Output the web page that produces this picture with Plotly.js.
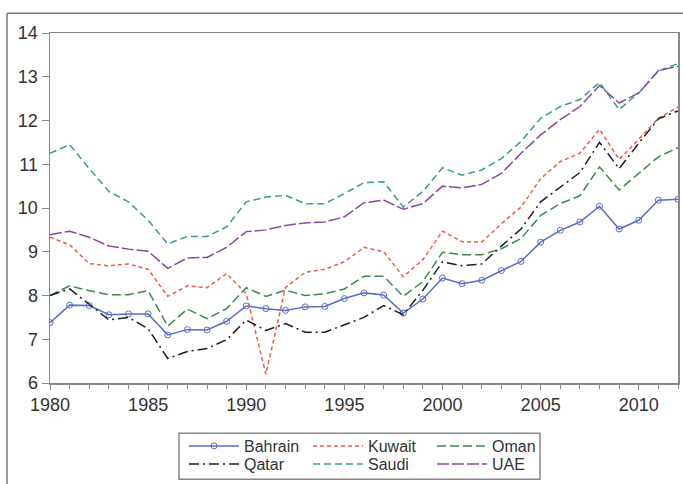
<!DOCTYPE html>
<html>
<head>
<meta charset="utf-8">
<script src="https://cdn.plot.ly/plotly-3.0.1.min.js"></script>
<style>html,body{margin:0;padding:0;background:#fff;}#chart{width:683px;height:484px;}</style>
</head>
<body>
<div id="chart"></div>
<script>
const years = [1980,1981,1982,1983,1984,1985,1986,1987,1988,1989,1990,1991,1992,1993,1994,1995,1996,1997,1998,1999,2000,2001,2002,2003,2004,2005,2006,2007,2008,2009,2010,2011,2012];
const bahrain = [7.38,7.78,7.77,7.56,7.58,7.58,7.1,7.22,7.21,7.41,7.76,7.7,7.66,7.74,7.75,7.93,8.06,8.01,7.6,7.92,8.4,8.27,8.35,8.57,8.78,9.22,9.49,9.68,10.04,9.52,9.72,10.18,10.2];
const kuwait = [9.33,9.16,8.73,8.68,8.72,8.6,7.98,8.22,8.18,8.5,8.04,6.2,8.18,8.53,8.6,8.77,9.1,9.0,8.43,8.82,9.47,9.23,9.22,9.64,10.02,10.67,11.06,11.25,11.8,11.11,11.57,12.05,12.31];
const oman = [8.0,8.22,8.11,8.02,8.02,8.11,7.3,7.69,7.47,7.7,8.18,7.98,8.12,8.0,8.04,8.15,8.44,8.44,7.98,8.32,8.99,8.93,8.93,9.07,9.3,9.83,10.1,10.28,10.94,10.41,10.79,11.17,11.38];
const qatar = [8.0,8.15,7.8,7.44,7.5,7.24,6.56,6.72,6.79,6.99,7.44,7.2,7.36,7.16,7.16,7.33,7.5,7.77,7.56,8.12,8.77,8.68,8.72,9.13,9.52,10.14,10.48,10.81,11.5,10.9,11.48,12.04,12.22];
const saudi = [11.25,11.45,10.9,10.38,10.14,9.72,9.18,9.35,9.35,9.57,10.14,10.25,10.29,10.1,10.1,10.33,10.58,10.6,10.02,10.38,10.92,10.75,10.87,11.13,11.52,12.05,12.32,12.48,12.87,12.25,12.63,13.13,13.3];
const uae = [9.39,9.47,9.33,9.13,9.06,9.01,8.62,8.86,8.87,9.1,9.46,9.5,9.6,9.66,9.68,9.8,10.12,10.18,9.97,10.1,10.5,10.46,10.54,10.79,11.25,11.67,12.02,12.32,12.8,12.4,12.63,13.14,13.24];

const traces = [
  {name:'Bahrain', y:bahrain, legend:'legend', line:{color:'#5a6cc8', width:1.5, dash:'solid'}, mode:'lines+markers', marker:{symbol:'circle-open', size:6, color:'#5a6cc8', line:{width:1}}},
  {name:'Kuwait', y:kuwait, legend:'legend', line:{color:'#f05a46', width:1.5, dash:'4px,3px'}, mode:'lines'},
  {name:'Oman', y:oman, legend:'legend', line:{color:'#3a8a4e', width:1.5, dash:'9px,4px'}, mode:'lines'},
  {name:'Qatar', y:qatar, legend:'legend2', line:{color:'#1e1e1e', width:1.5, dash:'10px,4px,2px,4px'}, mode:'lines'},
  {name:'Saudi', y:saudi, legend:'legend2', line:{color:'#3a9a98', width:1.5, dash:'7px,4px'}, mode:'lines'},
  {name:'UAE', y:uae, legend:'legend2', line:{color:'#8a48a0', width:1.5, dash:'12px,3px'}, mode:'lines'}
].map(t => Object.assign({x:years, type:'scatter'}, t));

const legendBase = {orientation:'h', xref:'container', yref:'container', xanchor:'left', yanchor:'middle',
  borderwidth:0, bgcolor:'rgba(0,0,0,0)', font:{size:16, color:'#333'}, entrywidth:59, tracegroupgap:0, itemwidth:50};

const fx = -43/628, fy = (382.7-13)/350;
const layout = {
  width:683, height:484,
  margin:{l:50, r:5, t:32.7, b:101.3, autoexpand:false},
  paper_bgcolor:'#fff', plot_bgcolor:'#fff',
  font:{family:'Liberation Sans, Arial, sans-serif', size:16, color:'#333'},
  showlegend:true,
  xaxis:{range:[1980,2012], dtick:5, tick0:1980, ticks:'outside', ticklen:5, tickcolor:'#888',
    minor:{dtick:1, ticks:'outside', ticklen:4, tickcolor:'#888'},
    showline:true, linecolor:'#888', linewidth:1.5, mirror:true, showgrid:false, zeroline:false,
    tickfont:{size:18, color:'#333'}},
  yaxis:{range:[6,14], dtick:1, ticks:'outside', ticklen:7, tickcolor:'#888',
    showline:true, linecolor:'#888', linewidth:1.5, mirror:true, showgrid:false, zeroline:false,
    tickfont:{size:18, color:'#333'}},
  legend:Object.assign({}, legendBase, {x:184/683, y:(484-446)/484}),
  legend2:Object.assign({}, legendBase, {x:184/683, y:(484-464)/484}),
  shapes:[
    {type:'line', xref:'paper', yref:'paper', x0:fx, x1:fx, y0:-0.4, y1:fy, line:{color:'#777', width:1.5}},
    {type:'line', xref:'paper', yref:'paper', x0:fx, x1:1.1, y0:fy, y1:fy, line:{color:'#777', width:1.5}},
    {type:'rect', xref:'paper', yref:'paper', x0:(179-50)/628, x1:(540-50)/628, y0:(382.7-479)/350, y1:(382.7-433)/350, line:{color:'#888', width:1.5}}
  ]
};
Plotly.newPlot('chart', traces, layout, {displayModeBar:false, staticPlot:true});
</script>
</body>
</html>
